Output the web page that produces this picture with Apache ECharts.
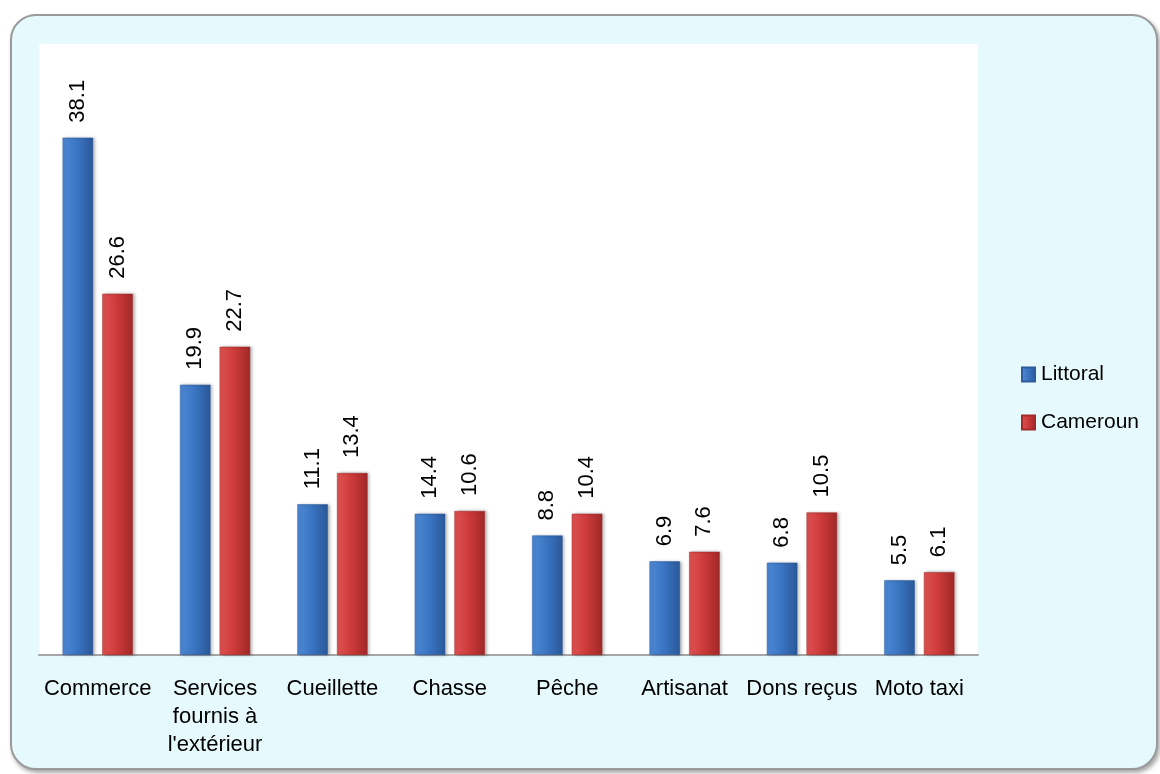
<!DOCTYPE html>
<html>
<head>
<meta charset="utf-8">
<script src="https://cdn.jsdelivr.net/npm/echarts@6.0.0/dist/echarts.min.js"></script>
<style>
  html, body { margin: 0; padding: 0; background: #ffffff; }
  #frame {
    position: absolute; left: 10px; top: 14px; width: 1144px; height: 752px;
    background: #e6f9fd; border: 2px solid #9a9a9a; border-radius: 26px;
    box-shadow: 2px 3px 4px rgba(0,0,0,0.35);
  }
  #app { position: absolute; left: 0; top: 0; width: 1160px; height: 774px; }
</style>
</head>
<body>
<div id="frame"></div>
<div id="app"></div>
<script>
const categories = ["Commerce", "Services\nfournis à\nl'extérieur", "Cueillette", "Chasse", "Pêche", "Artisanat", "Dons reçus", "Moto taxi"];
// hauteurs des barres
const littoral = [38.1, 19.9, 11.1, 10.4, 8.8, 6.9, 6.8, 5.5];
const cameroun = [26.6, 22.7, 13.4, 10.6, 10.4, 7.6, 10.5, 6.1];
// étiquettes affichées (Chasse/Littoral n'est pas égal à la barre)
const littoralLabels = ["38.1", "19.9", "11.1", "14.4", "8.8", "6.9", "6.8", "5.5"];
const camerounLabels = ["26.6", "22.7", "13.4", "10.6", "10.4", "7.6", "10.5", "6.1"];

const font = "Liberation Sans, Arial, sans-serif";
const narrow = "Liberation Sans Narrow, Arial Narrow, Liberation Sans, sans-serif";

const myChart = echarts.init(document.getElementById("app"));

const barGradient = (light, mid, dark) =>
  new echarts.graphic.LinearGradient(0, 0, 1, 0, [
    { offset: 0, color: light },
    { offset: 0.45, color: mid },
    { offset: 1, color: dark },
  ]);

const valueLabel = (labels) => ({
  show: true,
  position: "top",
  distance: 15,
  rotate: 90,
  align: "left",
  verticalAlign: "middle",
  fontFamily: narrow,
  fontSize: 22,
  color: "#000",
  formatter: (p) => labels[p.dataIndex],
});

const option = {
  animation: false,
  grid: {
    left: 39,
    right: 182,
    top: 44,
    bottom: 119,
    show: true,
    backgroundColor: "#ffffff",
    borderWidth: 0,
  },
  legend: {
    orient: "vertical",
    left: 1021,
    top: 364,
    padding: 0,
    icon: "rect",
    itemWidth: 13,
    itemHeight: 14,
    itemGap: 27,
    textStyle: { fontFamily: font, fontSize: 21, color: "#000", padding: [0, 0, 0, 1] },
    data: ["Littoral", "Cameroun"],
  },
  xAxis: {
    type: "category",
    data: categories,
    axisLine: { lineStyle: { color: "#a6a6a6", width: 2 } },
    axisTick: { show: false },
    axisLabel: {
      interval: 0,
      margin: 20,
      fontFamily: font,
      fontSize: 22,
      lineHeight: 28,
      color: "#000",
    },
  },
  yAxis: {
    type: "value",
    min: 0,
    max: 45,
    show: false,
    splitLine: { show: false },
  },
  series: [
    {
      name: "Littoral",
      type: "bar",
      data: littoral,
      barWidth: "26%",
      barGap: "30%",
      itemStyle: {
        color: barGradient("#4f8ad6", "#3b76c4", "#2a5899"),
        borderColor: "#2d5d9e",
        borderWidth: 0.5,
        shadowColor: "rgba(0,0,0,0.3)",
        shadowBlur: 3,
        shadowOffsetX: 2,
      },
      label: valueLabel(littoralLabels),
    },
    {
      name: "Cameroun",
      type: "bar",
      data: cameroun,
      barWidth: "26%",
      itemStyle: {
        color: barGradient("#e05454", "#cf3b3b", "#a02828"),
        borderColor: "#a32a2a",
        borderWidth: 0.5,
        shadowColor: "rgba(0,0,0,0.3)",
        shadowBlur: 3,
        shadowOffsetX: 2,
      },
      label: valueLabel(camerounLabels),
    },
  ],
};

myChart.setOption(option);
</script>
</body>
</html>
